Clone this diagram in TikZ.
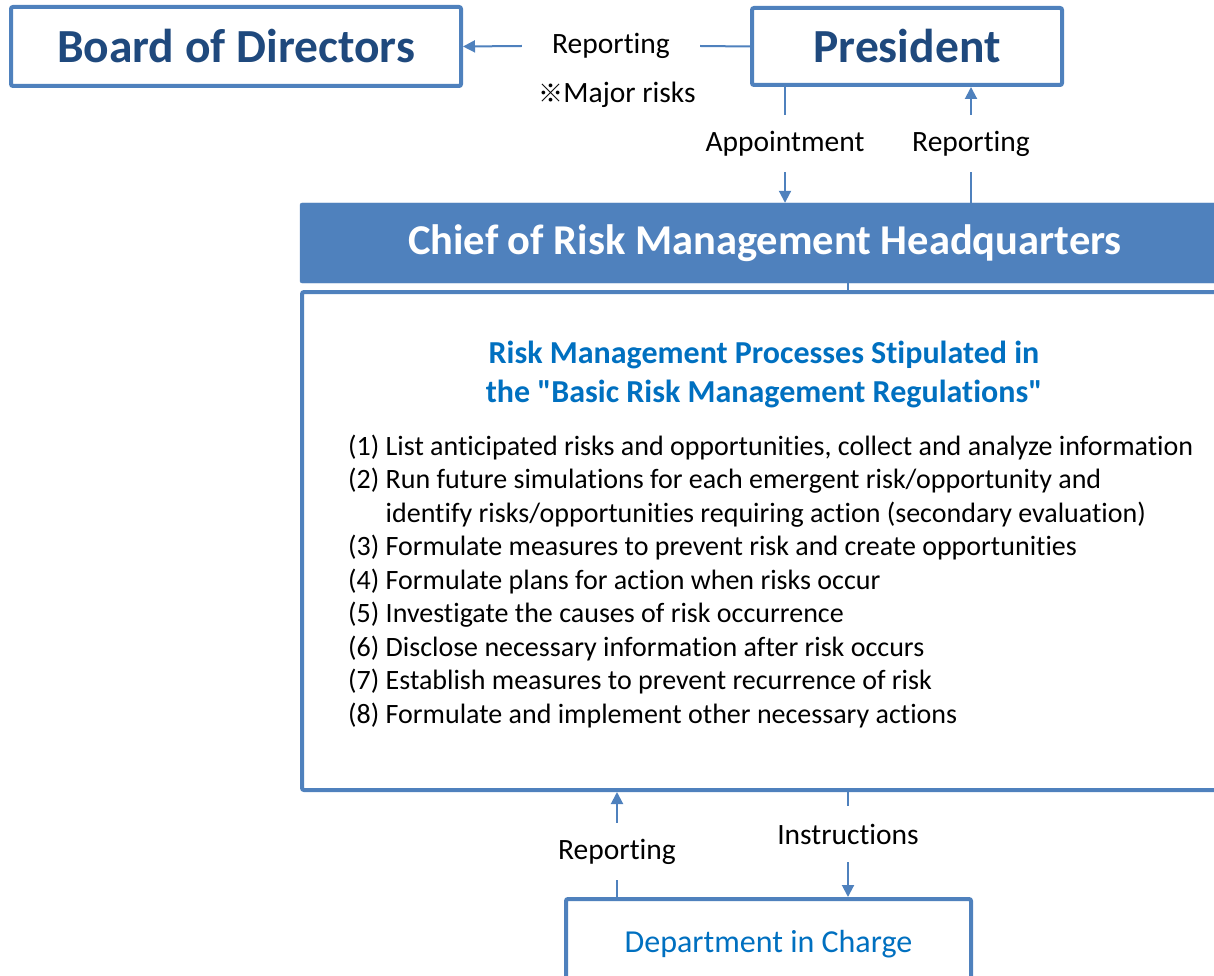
\documentclass[tikz,border=0pt]{standalone}
\usepackage{fontspec}
\setmainfont{Carlito}[Ligatures={NoCommon,TeXOff}]
\newfontfamily\cjk{Noto Sans CJK JP}
\usepackage{xcolor}
\usetikzlibrary{arrows.meta,positioning}
\definecolor{frame}{HTML}{4F81BD}
\definecolor{navy}{HTML}{1F497D}
\definecolor{titleblue}{HTML}{0070C0}

\begin{document}
\begin{tikzpicture}[
  x=1pt,y=-1pt,
  top/.style={draw=frame,line width=4pt,rounded corners=2pt,fill=white,
              font=\bfseries\fontsize{47.5}{52}\selectfont,text=navy,inner sep=0pt},
  lbl/.style={font=\fontsize{29.5}{34}\selectfont,inner sep=0pt},
  item/.style={anchor=base west,inner sep=0pt,font=\fontsize{28}{32}\selectfont},
  link/.style={frame,line width=2pt},
  arr/.style={link,-{Triangle[length=12pt,width=12pt]}}
]
  \useasboundingbox (0,0) rectangle (1214,976);
  \clip (0,0) rectangle (1214,976);

  % top row
  \node[top,minimum width=450pt,minimum height=79pt] (board) at (236,46.5) {Board of Directors};
  \node[top,minimum width=310pt,minimum height=77pt] (pres) at (907,46.5) {President};
  \node[lbl,minimum width=178pt] (rep1) at (611,46) {Reporting};
  \node[lbl] (major) at (617,95) {{\cjk\fontsize{25}{30}\selectfont ※}Major risks};

  % headquarters
  \node[draw=frame,fill=frame,rounded corners=2pt,minimum width=930pt,minimum height=80pt,
        text=white,font=\bfseries\fontsize{42.5}{48}\selectfont] (chief) at (765,243)
        {Chief of Risk Management Headquarters};
  \node[draw=frame,line width=4pt,rounded corners=2pt,fill=white,
        minimum width=928pt,minimum height=498pt] (proc) at (766,541) {};
  \node[text=titleblue,align=center,font=\bfseries\fontsize{32}{39}\selectfont] (ttl) at (764,374)
        {Risk Management Processes Stipulated in\\
         the "Basic Risk Management Regulations"};
  \foreach \t [count=\i] in {
      {(1) List anticipated risks and opportunities, collect and analyze information},
      {(2) Run future simulations for each emergent risk/opportunity and},
      {\phantom{(2) }identify risks/opportunities requiring action (secondary evaluation)},
      {(3) Formulate measures to prevent risk and create opportunities},
      {(4) Formulate plans for action when risks occur},
      {(5) Investigate the causes of risk occurrence},
      {(6) Disclose necessary information after risk occurs},
      {(7) Establish measures to prevent recurrence of risk},
      {(8) Formulate and implement other necessary actions}}
    \node[item] (item\i) at (348,421.5+33.5*\i) {\t};

  % vertical labels
  \node[lbl,minimum height=57pt] (appt) at (785,143.5) {Appointment};
  \node[lbl,minimum height=57pt] (rep2) at (971,143.5) {Reporting};
  \node[lbl,minimum height=57pt] (rep3) at (617,851.5) {Reporting};
  \node[lbl,minimum height=56pt] (instr) at (848,834) {Instructions};

  % department
  \node[draw=frame,line width=4pt,rounded corners=2pt,fill=white,
        minimum width=405pt,minimum height=90pt,text=titleblue,
        font=\fontsize{32}{36}\selectfont] (dept) at (768.5,944) {Department in Charge};

  % connectors
  \draw[link] (pres.west) -- (rep1.east);
  \draw[arr] (rep1.west) -- (board.east);
  \draw[link] (pres.south -| appt) -- (appt.north);
  \draw[arr] (appt.south) -- (appt |- chief.north);
  \draw[link] (chief.north -| rep2) -- (rep2.south);
  \draw[arr] (rep2.north) -- (rep2 |- pres.south);
  \draw[link] (chief.south -| instr) -- (proc.north -| instr);
  \draw[link] (proc.south -| instr) -- (instr.north);
  \draw[arr] (instr.south) -- (instr |- dept.north);
  \draw[link] (dept.north -| rep3) -- (rep3.south);
  \draw[arr] (rep3.north) -- (rep3 |- proc.south);
\end{tikzpicture}
\end{document}
